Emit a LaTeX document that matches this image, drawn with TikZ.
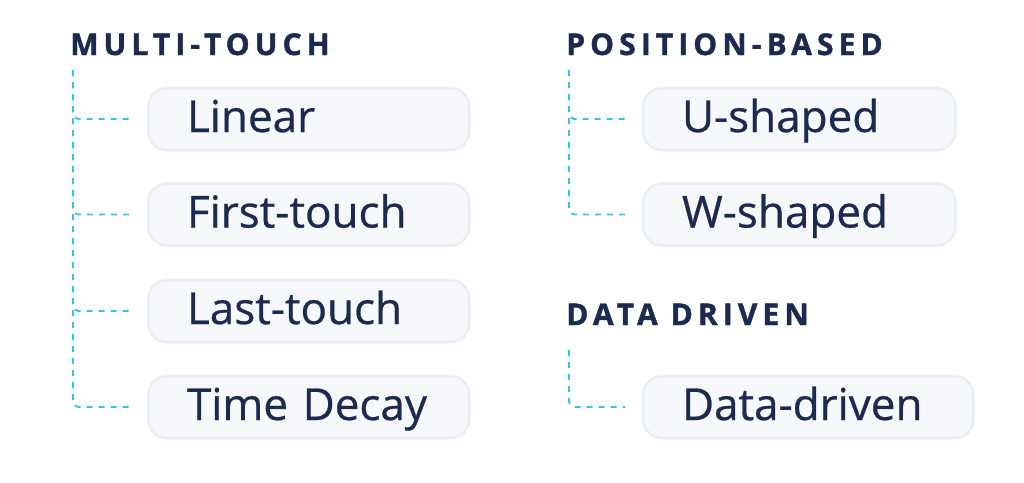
\documentclass[tikz,border=0pt]{standalone}
\usepackage{fontspec}
\setmainfont{Open Sans}[FakeBold=0.6]
\newfontfamily\headfont{Open Sans}[LetterSpace=17, BoldFeatures={FakeBold=1.4}]
\usepackage{xcolor}
\usepackage{tikz}

\definecolor{navy}{HTML}{1B2A4E}
\definecolor{cyanline}{HTML}{2EC4F0}
\definecolor{pillfill}{HTML}{F6F8FC}
\definecolor{pilledge}{HTML}{EAEEF5}

\tikzset{
  head/.style={anchor=base west, inner sep=0pt, text=navy, font=\headfont\bfseries\fontsize{22.5}{26}\selectfont},
  pill/.style={anchor=west, draw=pilledge, line width=2pt, fill=pillfill, rounded corners=14pt,
    minimum height=46.5pt, inner xsep=29pt, align=left, text=navy,
    text height=22pt, text depth=2.5pt, font=\fontsize{33}{37}\selectfont},
  tree/.style={draw=cyanline, line width=1.4pt, dash pattern=on 4.5pt off 4.5pt, rounded corners=4pt, shorten >=12.75pt}
}

\begin{document}
\begin{tikzpicture}[x=0.75pt,y=-0.75pt]
             \useasboundingbox (0,0) rectangle (1024,482);

             % headings
             \node[head] (multi) at (70,55) {MULTI-TOUCH};
             \node[head] (posb) at (566,55) {POSITION-BASED};
             \node[head] (datad) at (566,325) {DATA DRIVEN};

             % boxes
             \node[pill, text width=182.75pt] (lin) at (147,119) {Linear};
             \node[pill, text width=182.75pt] (first) at (147,214.5) {First-touch};
             \node[pill, text width=182.75pt] (last) at (147,311) {Last-touch};
             \node[pill, text width=182.75pt] (tdec) at (147,407) {Time Decay};
             \node[pill, text width=176pt] (ushp) at (642,119) {U-shaped};
             \node[pill, text width=176pt] (wshp) at (642,214.5) {W-shaped};
             \node[pill, text width=189.5pt] (ddrv) at (642,407) {Data-driven};

             % connectors
             \coordinate (mtop) at (73,70);
             \coordinate (ptop) at (569,70);
             \coordinate (dtop) at (569,350);
             \foreach \b in {lin,first,last,tdec}
               \draw[tree] (mtop) |- (\b.west);
             \foreach \b in {ushp,wshp}
               \draw[tree] (ptop) |- (\b.west);
             \draw[tree] (dtop) |- (ddrv.west);
             \end{tikzpicture}
\end{document}
